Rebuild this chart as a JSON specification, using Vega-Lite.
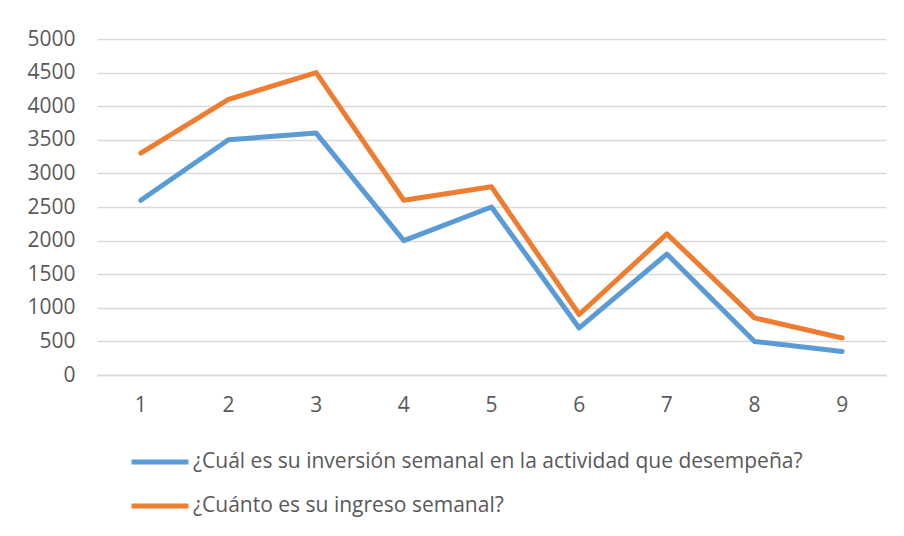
{
  "$schema": "https://vega.github.io/schema/vega-lite/v6.json",
  "width": 789,
  "height": 336,
  "autosize": {"type": "none"},
  "padding": {"left": 97, "top": 39, "right": 18, "bottom": 161},
  "background": "white",
  "data": {"values": [
    {"x": "1", "s": "¿Cuál es su inversión semanal en la actividad que desempeña?", "v": 2600},
    {"x": "2", "s": "¿Cuál es su inversión semanal en la actividad que desempeña?", "v": 3500},
    {"x": "3", "s": "¿Cuál es su inversión semanal en la actividad que desempeña?", "v": 3600},
    {"x": "4", "s": "¿Cuál es su inversión semanal en la actividad que desempeña?", "v": 2000},
    {"x": "5", "s": "¿Cuál es su inversión semanal en la actividad que desempeña?", "v": 2500},
    {"x": "6", "s": "¿Cuál es su inversión semanal en la actividad que desempeña?", "v": 700},
    {"x": "7", "s": "¿Cuál es su inversión semanal en la actividad que desempeña?", "v": 1800},
    {"x": "8", "s": "¿Cuál es su inversión semanal en la actividad que desempeña?", "v": 500},
    {"x": "9", "s": "¿Cuál es su inversión semanal en la actividad que desempeña?", "v": 350},
    {"x": "1", "s": "¿Cuánto es su ingreso semanal?", "v": 3300},
    {"x": "2", "s": "¿Cuánto es su ingreso semanal?", "v": 4100},
    {"x": "3", "s": "¿Cuánto es su ingreso semanal?", "v": 4500},
    {"x": "4", "s": "¿Cuánto es su ingreso semanal?", "v": 2600},
    {"x": "5", "s": "¿Cuánto es su ingreso semanal?", "v": 2800},
    {"x": "6", "s": "¿Cuánto es su ingreso semanal?", "v": 900},
    {"x": "7", "s": "¿Cuánto es su ingreso semanal?", "v": 2100},
    {"x": "8", "s": "¿Cuánto es su ingreso semanal?", "v": 850},
    {"x": "9", "s": "¿Cuánto es su ingreso semanal?", "v": 550}
  ]},
  "mark": {"type": "line", "strokeWidth": 5, "strokeCap": "round", "strokeJoin": "round"},
  "encoding": {
    "x": {
      "field": "x", "type": "ordinal",
      "scale": {"type": "band", "paddingInner": 0, "paddingOuter": 0},
      "axis": {"title": null, "labelAngle": 0, "ticks": false, "domain": true, "domainColor": "#D9D9D9", "domainWidth": 1.5, "labelPadding": 19, "grid": false, "labelFontSize": 21, "labelFont": "Open Sans", "labelColor": "#595959"}
    },
    "y": {
      "field": "v", "type": "quantitative",
      "scale": {"domain": [0, 5000], "nice": false},
      "axis": {"title": null, "format": "d", "values": [0, 500, 1000, 1500, 2000, 2500, 3000, 3500, 4000, 4500, 5000], "ticks": false, "domain": false, "grid": true, "gridColor": "#D9D9D9", "gridWidth": 1.5, "labelPadding": 22, "labelFontSize": 21, "labelFont": "Open Sans", "labelColor": "#595959"}
    },
    "color": {
      "field": "s", "type": "nominal",
      "scale": {"domain": ["¿Cuál es su inversión semanal en la actividad que desempeña?", "¿Cuánto es su ingreso semanal?"], "range": ["#5B9BD5", "#ED7D31"]},
      "legend": {
        "title": null, "orient": "none", "legendX": 32, "legendY": 392, "direction": "vertical",
        "symbolType": "stroke", "symbolSize": 3249, "symbolStrokeWidth": 5, "rowPadding": 3, "labelOffset": 2, "labelFontSize": 21, "labelFont": "Open Sans", "labelColor": "#595959", "labelLimit": 800
      }
    }
  },
  "config": {
    "view": {"stroke": null},
    "font": "Open Sans"
  }
}
